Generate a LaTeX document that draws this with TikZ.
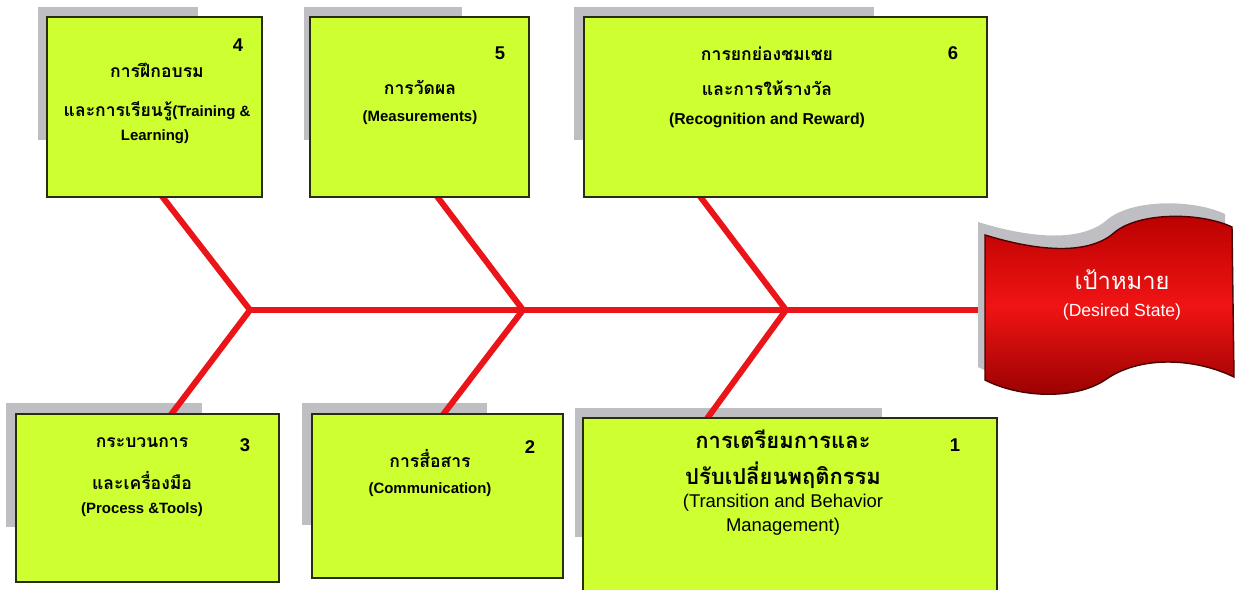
\documentclass[tikz,border=0pt]{standalone}
\usepackage{fontspec}
\setmainfont{Liberation Sans}
\newfontfamily\thai[Script=Thai]{Loma}

\definecolor{boxfill}{RGB}{206,255,48}
\definecolor{boxline}{RGB}{40,45,10}
\definecolor{shadowgray}{RGB}{190,190,195}
\definecolor{bonered}{RGB}{235,20,25}
\definecolor{goaltop}{RGB}{185,0,0}
\definecolor{goaldark}{RGB}{150,0,0}
\definecolor{goalmid}{RGB}{240,20,20}

% wavy flag of the goal, in pixel units
\newcommand{\goalshape}{(985,235) .. controls (1040,252) and (1090,255) .. (1115,232)
  .. controls (1140,212) and (1200,212) .. (1232,227) -- (1234,377)
  .. controls (1195,358) and (1140,355) .. (1105,380)
  .. controls (1075,400) and (1020,398) .. (985,380) -- cycle}

\tikzset{
  box/.style={draw=boxline, fill=boxfill, line width=1.2pt, inner sep=0pt},
  shade/.style={fill=shadowgray},
  spine/.style={draw=bonered, line width=3.8pt},
  bone/.style={draw=bonered, line width=3.4pt},
  num/.style={font=\fontsize{10.5}{12}\selectfont\bfseries, inner sep=0pt},
  en/.style={font=\fontsize{8.5}{10}\selectfont\bfseries, inner sep=0pt},
  th/.style={font=\thai\fontsize{10}{11}\selectfont\bfseries, inner sep=0pt},
  enbig/.style={font=\fontsize{10.5}{12}\selectfont, inner sep=0pt},
  thbig/.style={font=\thai\fontsize{12.5}{13}\selectfont\bfseries, inner sep=0pt},
}

\begin{document}
\begin{tikzpicture}[x=0.02cm,y=-0.02cm]
\useasboundingbox (0,0) rectangle (1243,589);
\clip (0,0) rectangle (1243,589);

% shadows
\fill[shade] (38,7)   rectangle (198,140);
\fill[shade] (304,7)  rectangle (462,140);
\fill[shade] (574,7)  rectangle (874,140);
\fill[shade] (6,403)  rectangle (202,527);
\fill[shade] (302,403) rectangle (487,525);
\fill[shade] (575,408) rectangle (882,537);

% fish bone
\coordinate (v1) at (250,310);
\coordinate (v2) at (523,310);
\coordinate (v3) at (786,310);
\coordinate (goalL) at (988,310);

\coordinate (c4) at (161,195);
\coordinate (c5) at (436,195);
\coordinate (c6) at (699,195);
\coordinate (c3) at (170,416);
\coordinate (c2) at (442,416);
\coordinate (c1) at (706,420);

\draw[spine] (v1) -- (goalL);
\draw[bone] (c4) -- (v1) -- (c3);
\draw[bone] (c5) -- (v2) -- (c2);
\draw[bone] (c6) -- (v3) -- (c1);

% boxes
\node[box, minimum width=4.30cm, minimum height=3.60cm] (b4) at (154.5,107) {};
\node[box, minimum width=4.38cm, minimum height=3.60cm] (b5) at (419.5,107) {};
\node[box, minimum width=8.06cm, minimum height=3.60cm] (b6) at (785.5,107) {};
\node[box, minimum width=5.26cm, minimum height=3.36cm] (b3) at (147.5,498) {};
\node[box, minimum width=5.02cm, minimum height=3.28cm] (b2) at (437.5,496) {};
\node[box, minimum width=8.28cm, minimum height=3.64cm] (b1) at (790,509) {};

% goal
\fill[shade] [shift={(-7,-13)}] \goalshape;
\draw[draw=black!70!red, line width=0.8pt, top color=goaltop, bottom color=goaldark, middle color=goalmid] \goalshape;

% texts
\node[num] (n4) at (238,45) {4};
\node[th] (t4a) at (157,70) {การฝึกอบรม};
\node[en] (t4b) at (157,111) {{\thai\fontsize{10}{11}\selectfont และการเรียนรู้}(Training \&};
\node[en] (t4c) at (155,137) {Learning)};

\node[num] (n5) at (500,53) {5};
\node[th] (t5a) at (420,87) {การวัดผล};
\node[en] (t5b) at (420,118) {(Measurements)};

\node[num] (n6) at (953,53) {6};
\node[th] (t6a) at (767,54) {การยกย่องชมเชย};
\node[th] (t6b) at (767,88) {และการให้รางวัล};
\node[en, font=\fontsize{9}{10}\selectfont\bfseries] (t6c) at (767,120) {(Recognition and Reward)};

\node[num] (n3) at (245,445) {3};
\node[th] (t3a) at (142,443) {กระบวนการ};
\node[th] (t3b) at (142,480) {และเครื่องมือ};
\node[en] (t3c) at (142,510) {(Process \&Tools)};

\node[num] (n2) at (530,447) {2};
\node[th] (t2a) at (430,458) {การสื่อสาร};
\node[en] (t2b) at (430,490) {(Communication)};

\node[num] (n1) at (955,445) {1};
\node[thbig] (t1a) at (783,439) {การเตรียมการและ};
\node[thbig] (t1b) at (783,475) {ปรับเปลี่ยนพฤติกรรม};
\node[enbig] (t1c) at (783,503) {(Transition and Behavior};
\node[enbig] (t1d) at (783,527) {Management)};

\node[white, inner sep=0pt, font=\thai\fontsize{13.5}{14}\selectfont\mdseries] (g1) at (1122,280) {เป้าหมาย};
\node[enbig, white, font=\fontsize{10}{12}\selectfont] (g2) at (1122,312) {(Desired State)};

\end{tikzpicture}
\end{document}
